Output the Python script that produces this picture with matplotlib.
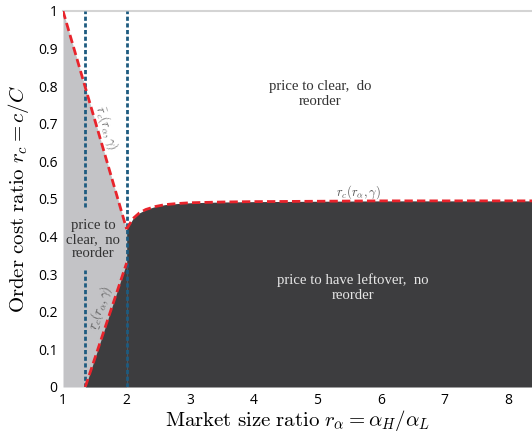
import matplotlib.pyplot as plt

plt.rcParams['mathtext.fontset'] = 'cm'

# boundary lines
ra_upper = [1.0, 2.0]
rc_upper = [1.0, 0.42]
ra_lower = [1.35, 2.0]
rc_lower = [0.0, 0.33]
ra_curve = [2.0, 2.1, 2.2, 2.3, 2.45, 2.6, 2.8, 3.0, 3.5, 4.0, 5.0, 6.0, 7.0, 8.0, 8.4]
rc_curve = [0.42, 0.448, 0.463, 0.472, 0.48, 0.485, 0.488, 0.49, 0.492, 0.493, 0.494, 0.495, 0.495, 0.495, 0.495]

# dotted vertical guides (x position, list of (y0, y1) pieces)
guide_x = [1.35, 2.0]
guide_spans = [[(0.48, 1.0), (0.0, 0.31)], [(0.0, 1.0)]]

x_ticks = [1, 2, 3, 4, 5, 6, 7, 8]
y_ticks = [0, 0.1, 0.2, 0.3, 0.4, 0.5, 0.6, 0.7, 0.8, 0.9, 1]
y_tick_labels = ["0", "0.1", "0.2", "0.3", "0.4", "0.5", "0.6", "0.7", "0.8", "0.9", "1"]

light = "#c3c3c6"
dark = "#3d3d3f"
red = "#e8242c"
blue = "#1d5b80"

fig = plt.figure(figsize=(5.32, 4.34), dpi=100)
ax = fig.add_axes([63 / 532, 1 - 387 / 434, 1 - 63 / 532, (387 - 11) / 434])

ax.fill_between(ra_upper, 0, rc_upper, color=light, lw=0)
ax.fill_between(ra_lower, 0, rc_lower, color=dark, lw=0)
ax.fill_between(ra_curve, 0, rc_curve, color=dark, lw=0)

for gx, spans in zip(guide_x, guide_spans):
    for y0, y1 in spans:
        ax.plot([gx, gx], [y0, y1], color=blue, lw=2, ls=(0, (1.5, 0.9)), zorder=3)

for xs, ys in [(ra_upper, rc_upper), (ra_lower, rc_lower), (ra_curve, rc_curve)]:
    ax.plot(xs, ys, color=red, lw=2, ls=(0, (3, 1.5)), zorder=4)

ax.text(5.04, 0.78, "price to clear,  do\nreorder", ha="center", va="center",
        family="Liberation Serif", fontsize=10.6, color="#333333", linespacing=1.2)
ax.text(5.56, 0.264, "price to have leftover,  no\nreorder", ha="center", va="center",
        family="Liberation Serif", fontsize=10.6, color="#e6e6e6", linespacing=1.2)
ax.text(1.47, 0.392, "price to\nclear,  no\nreorder", ha="center", va="center",
        family="Liberation Serif", fontsize=10.6, color="#333333", linespacing=1.1)

ax.text(1.69, 0.69, r"$\bar{r}_c(r_\alpha,\gamma)$", rotation=-72, ha="center", va="center",
        fontsize=9, color="#666666")
ax.text(1.58, 0.21, r"$\underset{\_}{r}_c(r_\alpha,\gamma)$", rotation=71, ha="center", va="center",
        fontsize=9, color="#555555")
ax.text(5.64, 0.517, r"$r_c(r_\alpha,\gamma)$", ha="center", va="center",
        fontsize=9, color="#555555")

ax.set_xlim(1, 8.37)
ax.set_ylim(0, 1)
ax.set_xticks(x_ticks)
ax.set_yticks(y_ticks)
ax.set_yticklabels(y_tick_labels)
ax.tick_params(length=0, labelsize=10, pad=4)
for lab in ax.get_xticklabels() + ax.get_yticklabels():
    lab.set_family("Open Sans")

for side in ["bottom", "right", "left"]:
    ax.spines[side].set_visible(False)
ax.spines["top"].set_color("#d4d4d4")
ax.spines["top"].set_linewidth(1.5)

ax.set_xlabel(r"$\mathrm{Market\ size\ ratio}\ r_\alpha = \alpha_H/\alpha_L$", fontsize=15, labelpad=0)
ax.set_ylabel(r"$\mathrm{Order\ cost\ ratio}\ r_c = c/C$", fontsize=15, labelpad=5)

fig.savefig("out.png", dpi=100)
